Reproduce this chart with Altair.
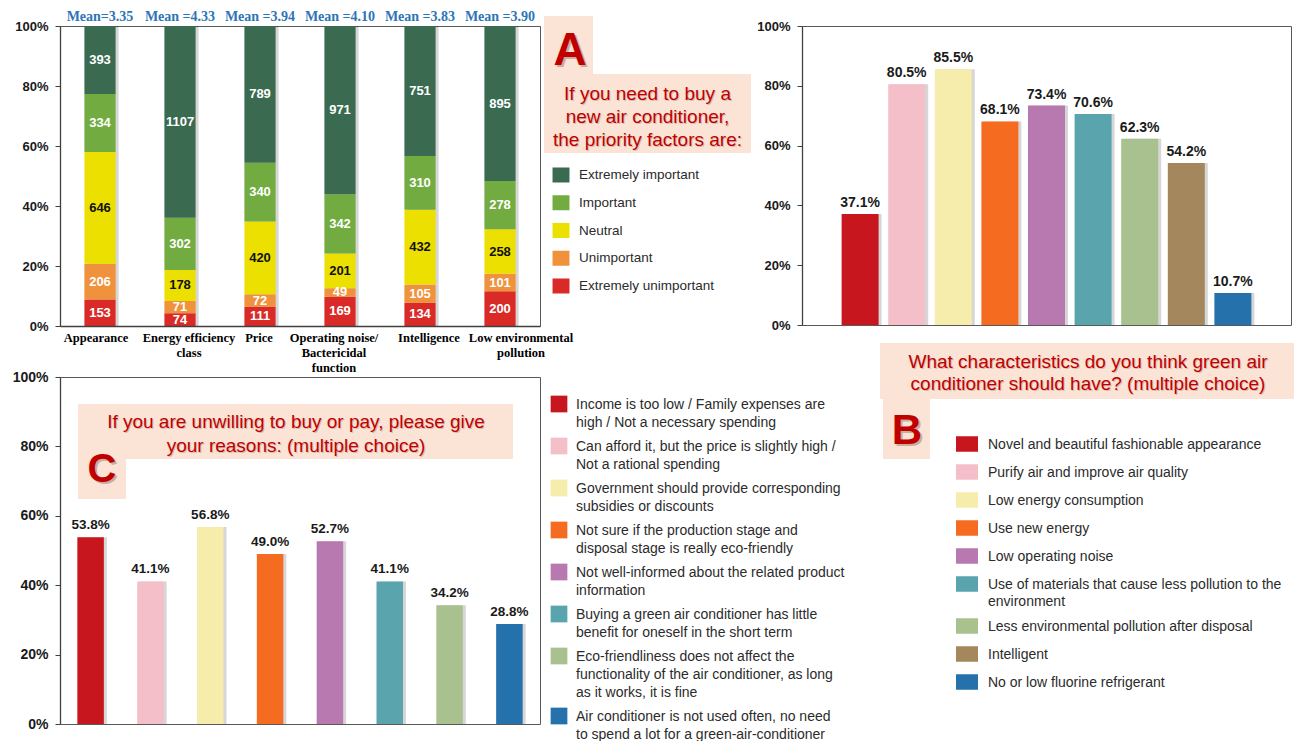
import altair as alt
import pandas as pd

SANS = "Liberation Sans"
SERIF = "Liberation Serif"
RED = "#C00000"
BOX = "#FBE3D6"
INK = "#1a1a1a"
LEG_INK = "#2b2b2b"

# ---------------- Panel A data ----------------
factors = ["Appearance", "Energy efficiency|class", "Price",
           "Operating noise/|Bactericidal|function", "Intelligence",
           "Low environmental|pollution"]
levels = ["Extremely unimportant", "Unimportant", "Neutral", "Important", "Extremely important"]
extremely_unimportant = [153, 74, 111, 169, 134, 200]
unimportant = [206, 71, 72, 49, 105, 101]
neutral = [646, 178, 420, 201, 432, 258]
important = [334, 302, 340, 342, 310, 278]
extremely_important = [393, 1107, 789, 971, 751, 895]
means = ["Mean=3.35", "Mean =4.33", "Mean =3.94", "Mean =4.10", "Mean =3.83", "Mean =3.90"]
level_colors = ["#DA2A27", "#F0913B", "#ECE000", "#72AC41", "#3A6A4F"]
title_a = "If you need to buy a\nnew air conditioner,\nthe priority factors are:"

# ---------------- Panel B data ----------------
b_items = ["Novel and beautiful fashionable appearance",
           "Purify air and improve air quality",
           "Low energy consumption",
           "Use new energy",
           "Low operating noise",
           "Use of materials that cause less pollution to the|environment",
           "Less environmental pollution after disposal",
           "Intelligent",
           "No or low fluorine refrigerant"]
b_values = [37.1, 80.5, 85.5, 68.1, 73.4, 70.6, 62.3, 54.2, 10.7]
b_colors = ["#C8161E", "#F5BFCA", "#F6ECAB", "#F56B20", "#B878B0",
            "#5AA4AE", "#A9C18F", "#A4875D", "#2471AC"]
title_b = "What characteristics do you think green air\nconditioner should have? (multiple choice)"

# ---------------- Panel C data ----------------
c_items = ["Income is too low / Family expenses are|high / Not a necessary spending",
           "Can afford it, but the price is slightly high /|Not a rational spending",
           "Government should provide corresponding|subsidies or discounts",
           "Not sure if the production stage and|disposal stage is really eco-friendly",
           "Not well-informed about the related product|information",
           "Buying a green air conditioner has little|benefit for oneself in the short term",
           "Eco-friendliness does not affect the|functionality of the air conditioner, as long|as it works, it is fine",
           "Air conditioner is not used often, no need|to spend a lot for a green-air-conditioner"]
c_values = [53.8, 41.1, 56.8, 49.0, 52.7, 41.1, 34.2, 28.8]
c_colors = ["#C8161E", "#F5BFCA", "#F6ECAB", "#F56B20", "#B878B0",
            "#5AA4AE", "#A9C18F", "#2471AC"]
title_c = "If you are unwilling to buy or pay, please give\nyour reasons: (multiple choice)"


def y_axis(fs, pct_fraction=False):
    kw = dict(title=None, labelFont=SANS, labelFontWeight="bold", labelFontSize=fs,
              labelColor=INK, tickSize=5, tickColor="#404040", tickWidth=1,
              domainColor="#404040", domainWidth=1.3, labelPadding=7, grid=False, zindex=1)
    if pct_fraction:
        return alt.Axis(values=[0, 0.2, 0.4, 0.6, 0.8, 1.0], format=".0%", **kw)
    return alt.Axis(values=[0, 20, 40, 60, 80, 100], labelExpr="datum.value + '%'", **kw)


def annotation(letter, title, letter_box, main_box, letter_pos, letter_size,
               title_pos, title_lh):
    ann = alt.Chart(pd.DataFrame({"letter": [letter], "title": [title]}))
    lx1, lx2, ly1, ly2 = letter_box
    mx1, mx2, my1, my2 = main_box
    layers = [
        ann.mark_rect(color=BOX).encode(x=alt.value(lx1), x2=alt.value(lx2),
                                        y=alt.value(ly1), y2=alt.value(ly2)),
        ann.mark_rect(color=BOX).encode(x=alt.value(mx1), x2=alt.value(mx2),
                                        y=alt.value(my1), y2=alt.value(my2)),
        ann.mark_text(font=SANS, fontWeight="bold", fontSize=letter_size, color="#6b4a40",
                      opacity=0.35, align="center", baseline="middle", dx=2, dy=2).encode(
            x=alt.value(letter_pos[0]), y=alt.value(letter_pos[1]), text="letter:N"),
        ann.mark_text(font=SANS, fontWeight="bold", fontSize=letter_size, color=RED,
                      align="center", baseline="middle").encode(
            x=alt.value(letter_pos[0]), y=alt.value(letter_pos[1]), text="letter:N"),
        ann.mark_text(font=SANS, fontSize=19, color="#6b4a40", opacity=0.25, align="center",
                      baseline="top", lineBreak="\n", lineHeight=title_lh, dx=1, dy=1.5).encode(
            x=alt.value(title_pos[0]), y=alt.value(title_pos[1]), text="title:N"),
        ann.mark_text(font=SANS, fontSize=19, color=RED, align="center",
                      baseline="top", lineBreak="\n", lineHeight=title_lh).encode(
            x=alt.value(title_pos[0]), y=alt.value(title_pos[1]), text="title:N"),
    ]
    return layers


# ================= Panel A =================
series = [extremely_unimportant, unimportant, neutral, important, extremely_important]
dfA = pd.DataFrame([{"Factor": f, "Level": lv, "li": i, "Count": series[i][j]}
                    for j, f in enumerate(factors) for i, lv in enumerate(levels)])

# small horizontal nudges of the category labels, as in the original layout
label_nudges = {"Appearance": -4, "Energy efficiency|class": 9, "Price": -1,
                "Operating noise/|Bactericidal|function": -6, "Intelligence": 9,
                "Low environmental|pollution": 21}
label_offset = {"condition": [{"test": "datum.value == '%s'" % k, "value": v}
                              for k, v in label_nudges.items()], "value": 0}

xA = alt.X("Factor:N", sort=factors,
           scale=alt.Scale(paddingInner=0.61, paddingOuter=0.305),
           axis=alt.Axis(title=None, labelExpr="split(datum.label, '|')", labelAngle=0,
                         labelFont=SERIF, labelFontWeight="bold", labelFontSize=12.5,
                         labelColor="#000000", labelBaseline="top", labelPadding=5,
                         labelLineHeight=15, ticks=False, domainColor="#404040",
                         domainWidth=1.3, labelLimit=250, zindex=1,
                         labelOffset=label_offset))
yA = alt.Y("y0:Q", scale=alt.Scale(domain=[0, 1], nice=False), axis=y_axis(13, True))
colorA = alt.Color("Level:N", scale=alt.Scale(domain=levels, range=level_colors), legend=None)

baseA = (alt.Chart(dfA)
         .transform_joinaggregate(Total="sum(Count)", groupby=["Factor"])
         .transform_calculate(Share="datum.Count / datum.Total")
         .transform_stack(stack="Share", groupby=["Factor"], as_=["y0", "y1"],
                          sort=[alt.SortField("li", order="ascending")])
         .transform_calculate(ymid="(datum.y0 + datum.y1) / 2"))

originA = alt.Chart(pd.DataFrame({"k": [0]})).mark_rect(opacity=0).encode(
    x=alt.value(-59), x2=alt.value(0), y=alt.value(-25), y2=alt.value(0))
shadowA = baseA.mark_bar(color="#000000", opacity=0.16, xOffset=3).encode(x=xA, y=yA, y2="y1:Q")
barsA = baseA.mark_bar().encode(x=xA, y=yA, y2="y1:Q", color=colorA)
labelsA = baseA.mark_text(font=SANS, fontWeight="bold", fontSize=13).encode(
    x=alt.X("Factor:N", sort=factors),
    y=alt.Y("ymid:Q", stack=None),
    text="Count:Q",
    color=alt.condition("datum.Level == 'Neutral'", alt.value("#111111"), alt.value("#ffffff")))
meansA = alt.Chart(pd.DataFrame({"Factor": factors, "Mean": means})).mark_text(
    font=SERIF, fontWeight="bold", fontSize=14, color="#2E75B6").encode(
    x=alt.X("Factor:N", sort=factors), y=alt.value(-9), text="Mean:N")

annA = annotation("A", title_a, (484, 533, -10, 49), (484, 691, 48, 127), (510, 25), 46,
                  (587.5, 58.5), 23)

legA_df = pd.DataFrame({"Level": levels, "li": list(range(len(levels)))})
legA_y = alt.Y("rank:Q", scale=alt.Scale(domain=[0, 5], range=[149, 287.75]), axis=None)
legA_base = alt.Chart(legA_df).transform_calculate(rank="4 - datum.li")
legSqA = legA_base.mark_point(shape="M-1.13,-1H1.13V1H-1.13Z", filled=True, size=225,
                              opacity=1, strokeWidth=0).encode(
    x=alt.value(501), y=legA_y, color=colorA)
legTxtA = legA_base.mark_text(font=SANS, fontSize=13.5, color=LEG_INK, align="left",
                              baseline="middle").encode(
    x=alt.value(519), y=legA_y, text="Level:N")

chartA = alt.layer(
    alt.layer(originA, shadowA, barsA, labelsA, meansA, *annA),
    alt.layer(legSqA, legTxtA)
).resolve_scale(y="independent").properties(width=480, height=300)


# ================= Panels B and C helpers =================
def bar_panel(items, values, colors, width, height, pin, pout, label_fs, label_dy, axis_fs):
    df = pd.DataFrame({"item": items, "value": values, "idx": list(range(len(items)))})
    x = alt.X("item:N", sort=items, scale=alt.Scale(paddingInner=pin, paddingOuter=pout), axis=None)
    y = alt.Y("value:Q", scale=alt.Scale(domain=[0, 100], nice=False), axis=y_axis(axis_fs))
    color = alt.Color("item:N", scale=alt.Scale(domain=items, range=colors), legend=None)
    base = alt.Chart(df)
    shadow = base.mark_bar(color="#000000", opacity=0.16, xOffset=3).encode(x=x, y=y)
    bars = base.mark_bar().encode(x=x, y=y, color=color)
    labels = base.transform_calculate(lbl="format(datum.value, '.1f') + '%'").mark_text(
        font=SANS, fontWeight="bold", fontSize=label_fs, color=INK, baseline="bottom",
        dy=label_dy).encode(x=x, y=y, text="lbl:N")
    return df, color, [shadow, bars, labels]


def legend_layers(df, color, units_expr, dom, rng, sq_shape, sq_size, sq_x, txt_x, fs, lh):
    base = (alt.Chart(df)
            .transform_calculate(nl="length(split(datum.item, '|'))")
            .transform_calculate(units=units_expr)
            .transform_window(cum="sum(units)", sort=[alt.SortField("idx")], frame=[None, 0])
            .transform_calculate(start="datum.cum - datum.units"))
    yl = alt.Y("start:Q", scale=alt.Scale(domain=dom, range=rng), axis=None)
    sq = base.mark_point(shape=sq_shape, filled=True, size=sq_size, opacity=1,
                         strokeWidth=0).encode(x=alt.value(sq_x), y=yl, color=color)
    txt = base.mark_text(font=SANS, fontSize=fs, color=LEG_INK, align="left", baseline="top",
                         lineBreak="|", lineHeight=lh, dy=-6).encode(
        x=alt.value(txt_x), y=yl, text="item:N")
    return [sq, txt]


# ================= Panel B =================
dfB, colorB, barsB = bar_panel(b_items, b_values, b_colors, 489, 299, 0.206, 0.85, 14, -4, 13)
annB = annotation("B", title_b, (81, 128, 372, 433), (78, 492, 317, 373), (105, 404.5), 42,
                  (286, 326.5), 22)
legB = legend_layers(dfB, colorB, "0.5 * datum.nl + 0.5", [0, 10], [418, 698],
                     "M-1.42,-1H1.42V1H-1.42Z", 240, 165, 186, 14, 17)
chartB = alt.layer(
    alt.layer(*barsB, *annB),
    alt.layer(*legB)
).resolve_scale(y="independent").properties(width=489, height=299)

# ================= Panel C =================
dfC, colorC, barsC = bar_panel(c_items, c_values, c_colors, 480, 347, 0.557, 0.29, 13.5, -5, 14)
annC = annotation("C", title_c, (18, 66, 81, 122), (18, 453, 27, 82), (42, 93), 40,
                  (236, 35.7), 24)
legC = legend_layers(dfC, colorC, "datum.nl + 1/3", [0, 20], [27, 387],
                     "square", 280, 499, 516, 14, 18)
chartC = alt.layer(
    alt.layer(*barsC, *annC),
    alt.layer(*legC)
).resolve_scale(y="independent").properties(width=480, height=347)

chart = alt.concat(
    chartA, chartB, chartC, columns=2,
    spacing={"row": 51, "column": 262}, bounds="flush", align="each"
).resolve_scale(
    color="independent", x="independent", y="independent"
).properties(
    padding=0, autosize=alt.AutoSizeParams(type="pad"), background="white"
).configure_view(stroke="#595959", strokeWidth=1)

chart.save("out.html", embed_options={"renderer": "svg", "actions": False})
